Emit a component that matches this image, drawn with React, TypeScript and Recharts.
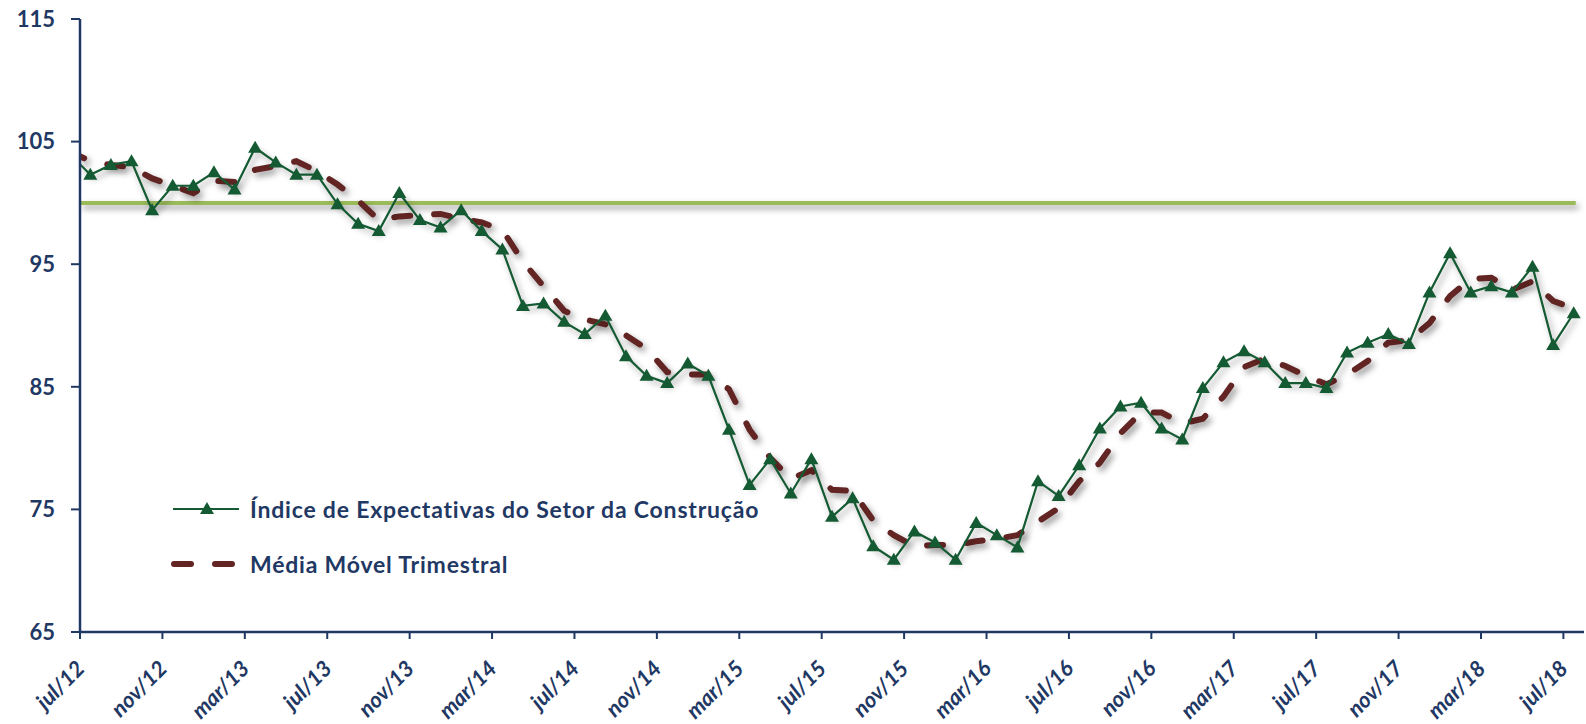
import { LineChart, Line, XAxis, YAxis, ReferenceLine, Legend } from 'recharts'

// monthly values, jun/12 .. jul/18 (jun/12 falls left of the axis and is clipped)
const indice = [
  104.0,
  102.3, 103.1, 103.4, 99.4, 101.4, 101.4, 102.5, 101.1, 104.5, 103.3, 102.3, 102.3,
  99.9, 98.3, 97.7, 100.8, 98.6, 98.0, 99.4, 97.7, 96.2, 91.6, 91.8, 90.3,
  89.3, 90.8, 87.5, 85.9, 85.3, 86.9, 85.9, 81.5, 77.0, 79.1, 76.3, 79.1,
  74.4, 75.9, 72.0, 70.9, 73.2, 72.3, 70.9, 73.9, 72.9, 71.9, 77.3, 76.1,
  78.6, 81.6, 83.4, 83.7, 81.6, 80.7, 84.9, 87.0, 87.9, 87.0, 85.3, 85.3,
  84.9, 87.8, 88.6, 89.3, 88.5, 92.7, 95.9, 92.7, 93.2, 92.7, 94.8, 88.4,
  91.0,
]

const media = [
  104.2,
  103.4, 103.1, 102.9, 102.0, 101.4, 100.8, 101.8, 101.7, 102.7, 103.0, 103.4, 102.6,
  101.5, 100.2, 98.6, 98.9, 99.0, 99.1, 98.7, 98.4, 97.8, 95.2, 93.2, 91.2,
  90.5, 90.1, 89.2, 88.1, 86.2, 86.0, 86.0, 84.8, 81.5, 79.2, 77.5, 78.2,
  76.6, 76.5, 74.1, 72.9, 72.0, 72.1, 72.1, 72.4, 72.6, 72.9, 74.0, 75.1,
  77.3, 78.8, 81.2, 82.9, 82.9, 82.0, 82.4, 84.2, 86.6, 87.3, 86.7, 85.9,
  85.2, 86.0, 87.1, 88.6, 88.8, 90.2, 92.4, 93.8, 93.9, 92.9, 93.6, 92.0,
  91.4,
]

const tickLabels = [
  'jul/12', 'nov/12', 'mar/13', 'jul/13', 'nov/13', 'mar/14', 'jul/14',
  'nov/14', 'mar/15', 'jul/15', 'nov/15', 'mar/16', 'jul/16', 'nov/16',
  'mar/17', 'jul/17', 'nov/17', 'mar/18', 'jul/18',
]

const yTicks = [65, 75, 85, 95, 105, 115]

const NAVY = '#1F3864'
const GREEN = '#145A32'
const MAROON = '#632523'
const FONT = 'Lato, "Open Sans", sans-serif'

const data = indice.map((v, k) => ({ i: k - 1, indice: v, media: media[k] }))

// ticks sit on the category boundaries, every 4 months
const xTicks = tickLabels.map((_, k) => k * 4 - 0.5)

const triangle = (cx: number, cy: number) =>
  `M${cx},${cy - 7} L${cx + 7},${cy + 5} L${cx - 7},${cy + 5} Z`

const TriangleDot = (props: any) => {
  const { cx, cy, payload, index } = props
  if (payload.i < 0) return <g key={`d-${index}`} />
  return <path key={`d-${index}`} d={triangle(cx, cy)} fill={GREEN} />
}

const XTick = ({ x, y, payload }: any) => {
  const k = xTicks.indexOf(payload.value)
  const tx = x + 6
  const ty = y + 29
  return (
    <text
      x={tx}
      y={ty}
      textAnchor="end"
      transform={`rotate(-45, ${tx}, ${ty})`}
      fill={NAVY}
      fontSize={22}
      fontWeight="bold"
      fontStyle="italic"
      fontFamily={FONT}
    >
      {tickLabels[k]}
    </text>
  )
}

const renderLegend = ({ payload }: any) => (
  <div style={{ fontFamily: FONT, fontWeight: 'bold', fontSize: 23, letterSpacing: 0.8, color: NAVY }}>
    {payload.map((entry: any) => (
      <div key={entry.value} style={{ display: 'flex', alignItems: 'center', height: 55 }}>
        <svg width={76} height={20} style={{ marginRight: 3 }}>
          {entry.dataKey === 'indice' ? (
            <>
              <line x1={2} y1={10} x2={68} y2={10} stroke={GREEN} strokeWidth={2} />
              <path d={triangle(36, 10)} fill={GREEN} />
            </>
          ) : (
            <line
              x1={3}
              y1={10}
              x2={66}
              y2={10}
              stroke={MAROON}
              strokeWidth={6}
              strokeLinecap="round"
              strokeDasharray="17 24"
            />
          )}
        </svg>
        <span>{entry.value}</span>
      </div>
    ))}
  </div>
)

export default function App() {
  return (
    <div style={{ position: 'absolute', left: 0, top: 0, background: '#fff' }}>
      <style>{`
        .shadowed { filter: drop-shadow(3px 4px 3px rgba(0,0,0,0.4)); }
      `}</style>
      <LineChart width={1586} height={724} data={data} margin={{ top: 19, right: 2, left: 0, bottom: 0 }}>
        <XAxis
          dataKey="i"
          type="number"
          domain={[-0.5, 72.5]}
          allowDataOverflow
          ticks={xTicks}
          interval={0}
          height={92}
          tickSize={7}
          tick={<XTick />}
          axisLine={{ stroke: NAVY, strokeWidth: 2.5 }}
          tickLine={{ stroke: NAVY, strokeWidth: 2 }}
        />
        <YAxis
          domain={[65, 115]}
          ticks={yTicks}
          interval={0}
          width={80}
          tickSize={9}
          tickMargin={16}
          tick={{ fill: NAVY, fontSize: 22, fontWeight: 'bold', fontFamily: FONT }}
          axisLine={{ stroke: NAVY, strokeWidth: 2.5 }}
          tickLine={{ stroke: NAVY, strokeWidth: 2 }}
        />
        <ReferenceLine
          className="shadowed"
          segment={[{ x: -0.5, y: 100 }, { x: 72.1, y: 100 }]}
          stroke="#9BBB59"
          strokeWidth={4}
        />
        <Line
          className="shadowed"
          dataKey="media"
          name="Média Móvel Trimestral"
          stroke={MAROON}
          strokeWidth={6}
          strokeDasharray="16 24"
          strokeLinecap="round"
          dot={false}
          activeDot={false}
          isAnimationActive={false}
        />
        <Line
          className="shadowed"
          dataKey="indice"
          name="Índice de Expectativas do Setor da Construção"
          stroke={GREEN}
          strokeWidth={2.2}
          dot={TriangleDot}
          activeDot={false}
          isAnimationActive={false}
        />
        <Legend
          layout="vertical"
          align="center"
          verticalAlign="middle"
          content={renderLegend}
          itemSorter={(item: any) => (item.dataKey === 'indice' ? 0 : 1)}
          wrapperStyle={{ left: 171, top: 481, width: 700, height: 110 }}
        />
      </LineChart>
    </div>
  )
}
